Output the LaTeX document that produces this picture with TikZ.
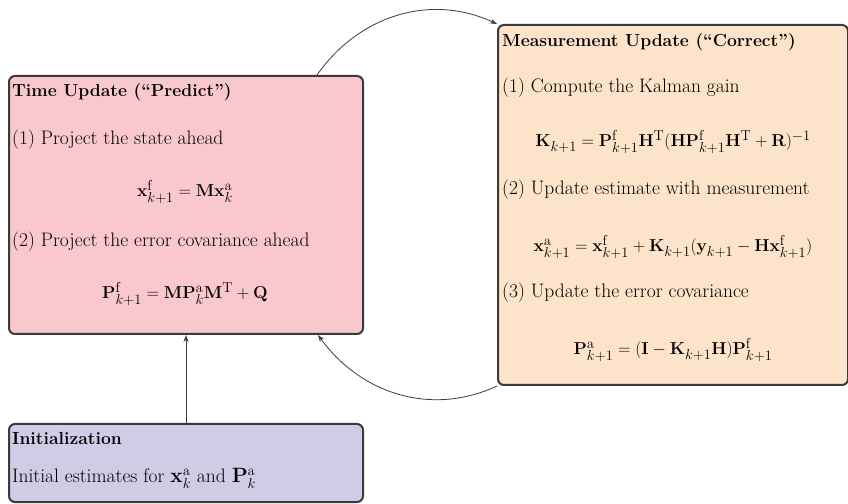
\documentclass[tikz,border=0pt]{standalone}
\usetikzlibrary{arrows.meta}
\definecolor{pinkc}{HTML}{F8C8CC}
\definecolor{orangec}{HTML}{FDE3CA}
\definecolor{lavc}{HTML}{CFCCE6}
\definecolor{edgec}{HTML}{3A3A3A}
\begin{document}
\begin{tikzpicture}[x=1pt,y=1pt,
  box/.style={draw=edgec, line width=2pt, rounded corners=6pt, anchor=north west, inner sep=0pt},
  txt/.style={anchor=base west, inner sep=0pt, font=\fontsize{19.5}{22}\selectfont},
  ttl/.style={anchor=base west, inner sep=0pt, font=\fontsize{17.5}{20}\selectfont\bfseries},
  eq/.style={anchor=base, inner sep=0pt, font=\fontsize{19}{22}\selectfont},
  arr/.style={draw=edgec, line width=0.8pt, -{Stealth[length=7pt,width=5pt]}}
]
\useasboundingbox (0,0) rectangle (848,503);
% boxes
\node[box, fill=pinkc, minimum width=354pt, minimum height=258pt] (tu) at (8,428) {};
\node[box, fill=orangec, minimum width=350pt, minimum height=360pt] (mu) at (497,479) {};
\node[box, fill=lavc, minimum width=354pt, minimum height=78pt] (init) at (8,80) {};
% time update text
\node[ttl] (tut) at (12,406) {Time Update (``Predict'')};
\node[txt] (tu1) at (12,358) {(1) Project the state ahead};
\node[eq] (tue1) at (185,306) {$\mathbf{x}^{\mathrm{f}}_{k+1}=\mathbf{M}\mathbf{x}^{\mathrm{a}}_{k}$};
\node[txt] (tu2) at (12,256) {(2) Project the error covariance ahead};
\node[eq] (tue2) at (185,204) {$\mathbf{P}^{\mathrm{f}}_{k+1}=\mathbf{M}\mathbf{P}^{\mathrm{a}}_{k}\mathbf{M}^{\mathrm{T}}+\mathbf{Q}$};
% measurement update text
\node[ttl] (mut) at (502,456) {Measurement Update (``Correct'')};
\node[txt] (mu1) at (502,410) {(1) Compute the Kalman gain};
\node[eq] (mue1) at (673,356) {$\mathbf{K}_{k+1}=\mathbf{P}^{\mathrm{f}}_{k+1}\mathbf{H}^{\mathrm{T}}(\mathbf{H}\mathbf{P}^{\mathrm{f}}_{k+1}\mathbf{H}^{\mathrm{T}}+\mathbf{R})^{-1}$};
\node[txt] (mu2) at (502,308) {(2) Update estimate with measurement};
\node[eq] (mue2) at (673,251) {$\mathbf{x}^{\mathrm{a}}_{k+1}=\mathbf{x}^{\mathrm{f}}_{k+1}+\mathbf{K}_{k+1}(\mathbf{y}_{k+1}-\mathbf{H}\mathbf{x}^{\mathrm{f}}_{k+1})$};
\node[txt] (mu3) at (502,205) {(3) Update the error covariance};
\node[eq] (mue3) at (673,148) {$\mathbf{P}^{\mathrm{a}}_{k+1}=(\mathbf{I}-\mathbf{K}_{k+1}\mathbf{H})\mathbf{P}^{\mathrm{f}}_{k+1}$};
% init text
\node[ttl] (it) at (12,58) {Initialization};
\node[txt] (i1) at (12,20) {Initial estimates for $\mathbf{x}^{\mathrm{a}}_{k}$ and $\mathbf{P}^{\mathrm{a}}_{k}$};
% connectors
\coordinate (tutop) at ([xshift=-47pt]tu.north east);
\coordinate (tubot) at ([xshift=-46pt]tu.south east);
\draw[arr] (tutop) to[out=55,in=155] (mu.north west);
\draw[arr] (mu.south west) to[out=205,in=-54] (tubot);
\draw[arr] (init.north) -- (tu.south);
\end{tikzpicture}
\end{document}
